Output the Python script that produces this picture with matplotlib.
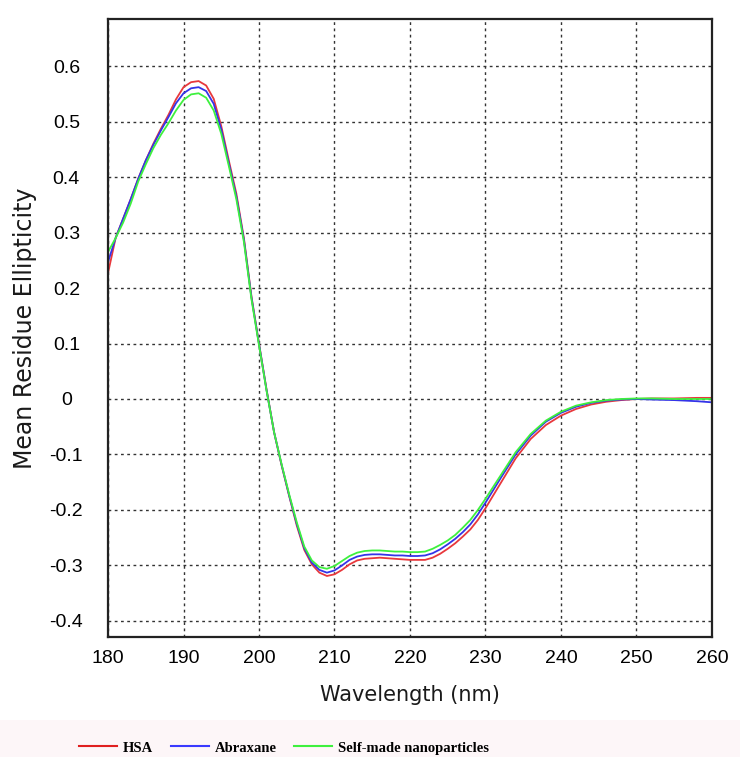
import matplotlib.pyplot as plt
from matplotlib.patches import Rectangle
import numpy as np

wavelength = [180, 181, 182, 183, 184, 185, 186, 187, 188, 189, 190, 191, 192, 193, 194,
              195, 196, 197, 198, 199, 200, 201, 202, 203, 204, 205, 206, 207, 208, 209,
              210, 211, 212, 213, 214, 215, 216, 217, 218, 219, 220, 221, 222, 223, 224,
              225, 226, 227, 228, 229, 230, 232, 234, 236, 238, 240, 242, 244, 246, 248,
              250, 252, 255, 258, 260]

hsa = [0.227, 0.29, 0.325, 0.36, 0.397, 0.43, 0.46, 0.487, 0.512, 0.54, 0.562, 0.571, 0.573, 0.565, 0.541,
       0.492, 0.43, 0.37, 0.29, 0.185, 0.1, 0.017, -0.06, -0.12, -0.175, -0.228, -0.272, -0.298, -0.313, -0.319,
       -0.316, -0.308, -0.298, -0.291, -0.288, -0.287, -0.286, -0.287, -0.288, -0.289, -0.29, -0.29, -0.29, -0.286, -0.279,
       -0.27, -0.26, -0.248, -0.235, -0.218, -0.197, -0.152, -0.107, -0.072, -0.047, -0.03, -0.018, -0.01, -0.005, -0.002,
       0.0, 0.001, 0.001, 0.002, 0.002]

abraxane = [0.247, 0.29, 0.325, 0.36, 0.397, 0.43, 0.458, 0.484, 0.508, 0.533, 0.551, 0.56, 0.562, 0.555, 0.532,
            0.486, 0.425, 0.365, 0.287, 0.183, 0.099, 0.016, -0.06, -0.119, -0.174, -0.225, -0.269, -0.295, -0.308, -0.313,
            -0.309, -0.3, -0.29, -0.284, -0.281, -0.28, -0.28, -0.281, -0.282, -0.282, -0.283, -0.283, -0.282, -0.278, -0.271,
            -0.262, -0.252, -0.24, -0.226, -0.208, -0.187, -0.143, -0.1, -0.066, -0.041, -0.025, -0.014, -0.007, -0.003, -0.001,
            0.0, -0.001, -0.002, -0.004, -0.006]

selfmade = [0.265, 0.29, 0.318, 0.352, 0.392, 0.423, 0.452, 0.476, 0.497, 0.52, 0.539, 0.549, 0.551, 0.543, 0.52,
            0.478, 0.42, 0.36, 0.283, 0.18, 0.097, 0.015, -0.06, -0.118, -0.172, -0.222, -0.266, -0.291, -0.303, -0.306,
            -0.301, -0.292, -0.283, -0.277, -0.274, -0.273, -0.273, -0.274, -0.275, -0.275, -0.276, -0.276, -0.275, -0.27, -0.263,
            -0.255, -0.245, -0.232, -0.218, -0.2, -0.18, -0.138, -0.096, -0.063, -0.039, -0.023, -0.012, -0.006, -0.002, 0.0,
            0.001, 0.001, 0.0, 0.0, 0.0]

labels = ["HSA", "Abraxane", "Self-made nanoparticles"]
colors = ["#e8383c", "#3434e8", "#3ef03e"]

xticks = [180, 190, 200, 210, 220, 230, 240, 250, 260]
yticks = [0.6, 0.5, 0.4, 0.3, 0.2, 0.1, 0, -0.1, -0.2, -0.3, -0.4]
ytick_labels = ["0.6", "0.5", "0.4", "0.3", "0.2", "0.1", "0", "-0.1", "-0.2", "-0.3", "-0.4"]

fig = plt.figure(figsize=(7.4, 7.57), dpi=100)
fig.patches.append(Rectangle((0, 0), 1, 0.049, transform=fig.transFigure,
                             facecolor="#fdf6f8", edgecolor="none", zorder=-1))
ax = fig.add_axes([0.146, 0.1585, 0.816, 0.8165])

for y, c, lab in zip([hsa, abraxane, selfmade], colors, labels):
    ax.plot(wavelength, y, color=c, lw=1.3, label=lab)

ax.set_xlim(180, 260)
ax.set_ylim(-0.429, 0.685)
ax.set_xticks(xticks)
ax.set_yticks(yticks)
ax.set_yticklabels(ytick_labels)
ax.grid(True, color="#333333", linestyle=(0, (2, 2.5)), lw=1.0)
ax.tick_params(length=0, labelsize=14)
ax.tick_params(axis='y', pad=30)
ax.tick_params(axis='x', pad=9)
for t in ax.get_yticklabels():
    t.set_horizontalalignment('center')
    t.set_family('Liberation Sans')
for t in ax.get_xticklabels():
    t.set_family('Liberation Sans')
for s in ax.spines.values():
    s.set_linewidth(1.6)
    s.set_color("#222222")

ax.set_ylabel("Mean Residue Ellipticity", fontsize=17, family='DejaVu Sans', color="#1a1a1a", labelpad=9)
ax.set_xlabel("Wavelength (nm)", fontsize=15, family='DejaVu Sans', color="#1a1a1a", labelpad=13)

leg_handles = [plt.Line2D([], [], color=c, lw=1.5) for c in ["#e02020", "#3a3aff", "#3ef03e"]]
fig.legend(leg_handles, labels, loc='center', bbox_to_anchor=(0.384, 0.012), ncol=3, frameon=False,
           prop={'family': 'Liberation Serif', 'weight': 'bold', 'size': 10.5},
           handlelength=2.6, handletextpad=0.4, columnspacing=1.2)

fig.savefig("out.png", dpi=100)
